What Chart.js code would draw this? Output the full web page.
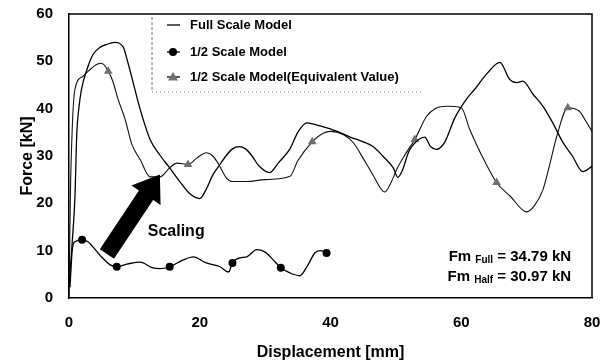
<!DOCTYPE html>
<html>
<head>
<meta charset="utf-8">
<script src="https://cdn.jsdelivr.net/npm/chart.js@4.4.0/dist/chart.umd.min.js"></script>
<style>
  html, body { margin: 0; padding: 0; background: #fff; }
  #wrap { width: 608px; height: 363px; }
</style>
</head>
<body>
<div id="wrap"><canvas id="forceChart" width="608" height="363"></canvas></div>
<script>
// Full scale model
const fullX = [0, 0.5, 0.9, 1.2, 1.5, 1.9, 2.8, 3.7, 4.8, 5.8, 7, 8.3, 9, 10, 10.9, 12.4, 14, 15.4, 17, 18.5,
  20, 21, 22, 23, 24, 25, 26, 27, 28, 29, 30.7, 32, 33.8, 35, 36.4, 38, 41, 43, 45, 46.5,
  48, 49.6, 50.3, 51, 52, 53.5, 54.4, 55.3, 56.2, 57.5, 59, 60.8, 62, 64, 65.9, 67.4, 68.5, 69.4, 71, 72.5,
  74, 75.5, 77, 78.6, 80];
const fullY = [2, 12, 21, 35, 40, 44, 48.5, 51.5, 53, 53.6, 54, 53, 49.8, 44.5, 39.8, 33.5, 30, 27.5, 24.5, 22,
  21, 23, 26, 28, 30, 31.5, 32, 31.5, 30, 28, 26.5, 28.5, 31.5, 35, 37, 36.5, 35.2, 34, 33, 32,
  30, 27.5, 25.5, 27, 31, 33.5, 34, 32, 31.4, 33, 38, 42, 44, 47.5, 49.8, 46.2, 45.5, 45.8, 43, 40.5,
  37, 33, 30, 26.7, 27.8];

// 1/2 scale model
const halfX = [0.15, 0.5, 0.9, 2, 2.9, 4.7, 6.3, 7.3, 9, 10.9, 12.7, 14, 15.4, 17.4, 19, 21, 23.1, 24.4, 25, 26.1,
  27.2, 28.7, 30, 31.2, 32.4, 33.8, 35.3, 36.4, 37.6, 38.4, 39.4];
const halfY = [2.3, 10.2, 11.9, 12.3, 11.9, 9.1, 7, 6.6, 7.2, 7.6, 6.4, 6.2, 6.6, 8, 8.7, 7.4, 6.6, 5.5, 7.4, 8.5,
  8.7, 10.2, 9.7, 8.1, 6.4, 5.3, 4.7, 6.6, 9.5, 10, 9.5];
const halfMarkers = [2, 7.3, 15.4, 25, 32.4, 39.4];

// 1/2 scale model (equivalent value)
const eqX = [0, 0.2, 0.5, 0.9, 2.1, 3, 4.3, 5, 6, 6.7, 7.5, 8.6, 9.6, 10.9, 12.4, 13.9, 15.4, 16.5, 18.2, 19.5,
  21, 22, 23, 24, 25, 27, 30, 33.8, 35, 37.2, 38.5, 40, 42, 43.5, 45, 46.5, 48.3, 49.3, 50.1, 51.5,
  52.9, 54.7, 56, 57.8, 60, 61.3, 63, 65.4, 67.5, 70, 71.2, 72.5, 73.5, 74.6, 76.3, 78.1, 79, 80];
const eqY = [0, 20.8, 36, 44, 46.8, 48, 49.4, 49.6, 47.9, 45.8, 42, 37.7, 32.5, 29.2, 25.6, 25.6, 27.5, 28.5, 28.2, 29.5,
  30.7, 30, 28, 25.5, 24.6, 24.6, 25, 25.7, 29, 33, 34.5, 35.2, 34.5, 32.8, 29.5, 26, 22.4, 24.5, 27.1, 30.5,
  33.5, 38.4, 40, 40.5, 40.2, 35.6, 30.5, 24.4, 21.5, 18.2, 19.5, 22.9, 28, 34.1, 40.2, 39.4, 37.5, 35.2];
const eqMarkers = [6, 18.2, 37.2, 52.9, 65.4, 76.3];

const xTicks = [0, 20, 40, 60, 80];
const yTicks = [0, 10, 20, 30, 40, 50, 60];
const seriesLabels = ['Full Scale Model', '1/2 Scale Model', '1/2 Scale Model(Equivalent Value)'];
const fmLines = [['Fm', 'Full', '= 34.79 kN'], ['Fm', 'Half', '= 30.97 kN']];

const FONT = '"Liberation Sans", Arial, sans-serif';
const toPts = (xs, ys) => xs.map((x, i) => ({ x: x, y: ys[i] }));

// cadre, flèche, textes et légende
const decor = {
  id: 'decor',
  afterDraw(chart) {
    const ctx = chart.ctx;
    const a = chart.chartArea;
    const sx = chart.scales.x, sy = chart.scales.y;
    ctx.save();

    // top / right frame
    ctx.strokeStyle = '#000';
    ctx.lineWidth = 1.5;
    ctx.beginPath();
    ctx.moveTo(a.left, a.top);
    ctx.lineTo(a.right, a.top);
    ctx.lineTo(a.right, a.bottom);
    ctx.stroke();

    // scaling arrow
    const x0 = sx.getPixelForValue(5.8), y0 = sy.getPixelForValue(9.3);
    const x1 = sx.getPixelForValue(13.9), y1 = sy.getPixelForValue(26.1);
    const ang = Math.atan2(y1 - y0, x1 - x0);
    const len = Math.hypot(x1 - x0, y1 - y0);
    ctx.translate(x0, y0);
    ctx.rotate(ang);
    ctx.fillStyle = '#000';
    ctx.beginPath();
    ctx.moveTo(0, -8.5);
    ctx.lineTo(len - 25, -8.5);
    ctx.lineTo(len - 25, -17.5);
    ctx.lineTo(len, 0);
    ctx.lineTo(len - 25, 17.5);
    ctx.lineTo(len - 25, 8.5);
    ctx.lineTo(0, 8.5);
    ctx.closePath();
    ctx.fill();
    ctx.setTransform(1, 0, 0, 1, 0, 0);

    ctx.fillStyle = '#000';
    ctx.font = 'bold 16px ' + FONT;
    ctx.textAlign = 'center';
    ctx.textBaseline = 'middle';
    ctx.fillText('Scaling', sx.getPixelForValue(16.4), sy.getPixelForValue(14));

    // Fm annotation
    const rx = sx.getPixelForValue(76.8);
    fmLines.forEach((ln, i) => {
      const yy = sy.getPixelForValue(8.7 - i * 4.3);
      const t1 = ln[0] + ' ', t2 = ln[1], t3 = ' ' + ln[2];
      ctx.textAlign = 'left';
      ctx.font = 'bold 15px ' + FONT;
      const w1 = ctx.measureText(t1).width;
      const w3 = ctx.measureText(t3).width;
      ctx.font = 'bold 10px ' + FONT;
      const w2 = ctx.measureText(t2).width;
      const px = rx - w1 - w2 - w3;
      ctx.font = 'bold 15px ' + FONT;
      ctx.fillText(t1, px, yy);
      ctx.font = 'bold 10px ' + FONT;
      ctx.fillText(t2, px + w1, yy + 3);
      ctx.font = 'bold 15px ' + FONT;
      ctx.fillText(t3, px + w1 + w2, yy);
    });

    // legend box (dashed left, dotted bottom)
    const lx = a.left + 83;
    ctx.strokeStyle = '#777';
    ctx.lineWidth = 1;
    ctx.setLineDash([3, 2]);
    ctx.beginPath();
    ctx.moveTo(lx, a.top + 3);
    ctx.lineTo(lx, a.top + 78);
    ctx.stroke();
    ctx.setLineDash([1, 3]);
    ctx.beginPath();
    ctx.moveTo(lx, a.top + 78);
    ctx.lineTo(lx + 270, a.top + 78);
    ctx.stroke();
    ctx.setLineDash([]);

    const rows = [a.top + 11, a.top + 38, a.top + 63];
    ctx.font = 'bold 13px ' + FONT;
    ctx.textAlign = 'left';
    ctx.textBaseline = 'middle';
    rows.forEach((ry, i) => {
      const sxl = lx + 15;
      ctx.strokeStyle = '#000';
      ctx.lineWidth = 1.3;
      ctx.beginPath();
      ctx.moveTo(sxl, ry);
      ctx.lineTo(sxl + 13, ry);
      ctx.stroke();
      if (i === 1) {
        ctx.fillStyle = '#000';
        ctx.beginPath();
        ctx.arc(sxl + 6, ry, 4, 0, Math.PI * 2);
        ctx.fill();
      } else if (i === 2) {
        ctx.fillStyle = '#6f6f6f';
        ctx.beginPath();
        ctx.moveTo(sxl + 6, ry - 5);
        ctx.lineTo(sxl + 11, ry + 3.5);
        ctx.lineTo(sxl + 1, ry + 3.5);
        ctx.closePath();
        ctx.fill();
      }
      ctx.fillStyle = '#000';
      ctx.fillText(seriesLabels[i], lx + 38, ry);
    });

    ctx.restore();
  }
};

const forceChart = new Chart(document.getElementById('forceChart'), {
  type: 'line',
  data: {
    datasets: [{
      label: seriesLabels[0],
      data: toPts(fullX, fullY),
      borderColor: '#000',
      borderWidth: 1.3,
      pointRadius: 0,
      cubicInterpolationMode: 'monotone',
    }, {
      label: seriesLabels[1],
      data: toPts(halfX, halfY),
      borderColor: '#000',
      borderWidth: 1.3,
      backgroundColor: '#000',
      pointStyle: 'circle',
      pointRadius: c => halfMarkers.includes(c.raw.x) ? 4 : 0,
      pointBorderWidth: 0,
      cubicInterpolationMode: 'monotone',
    }, {
      label: seriesLabels[2],
      data: toPts(eqX, eqY),
      borderColor: '#111',
      borderWidth: 1.1,
      backgroundColor: '#6f6f6f',
      pointStyle: 'triangle',
      pointRadius: c => eqMarkers.includes(c.raw.x) ? 5 : 0,
      pointBorderWidth: 0,
      cubicInterpolationMode: 'monotone',
    }]
  },
  options: {
    responsive: false,
    animation: false,
    layout: { padding: { top: 14, right: 16, left: 0, bottom: 0 } },
    plugins: {
      legend: { display: false },
      tooltip: { enabled: false },
    },
    scales: {
      x: {
        type: 'linear',
        min: 0, max: 80,
        afterBuildTicks: s => { s.ticks = xTicks.map(v => ({ value: v })); },
        afterFit: s => { s.height = 65; s.paddingLeft = 0; s.paddingRight = 0; },
        grid: { display: false, drawTicks: false },
        border: { color: '#000', width: 1.5 },
        ticks: { color: '#000', font: { family: FONT, size: 15, weight: 'bold' }, padding: 16, maxRotation: 0 },
        title: { display: true, text: 'Displacement [mm]', color: '#000', font: { family: FONT, size: 16, weight: 'bold' }, padding: { top: 0, bottom: 1 } },
      },
      y: {
        min: 0, max: 60,
        afterBuildTicks: s => { s.ticks = yTicks.map(v => ({ value: v })); },
        afterFit: s => { s.width = 69; s.paddingTop = 0; s.paddingBottom = 0; },
        grid: { display: false, drawTicks: false },
        border: { color: '#000', width: 1.5 },
        ticks: { color: '#000', font: { family: FONT, size: 15, weight: 'bold' }, padding: 16 },
        title: { display: true, text: 'Force [kN]', color: '#000', font: { family: FONT, size: 16, weight: 'bold' }, padding: { top: 18, bottom: 0 } },
      }
    }
  },
  plugins: [decor]
});
</script>
</body>
</html>
